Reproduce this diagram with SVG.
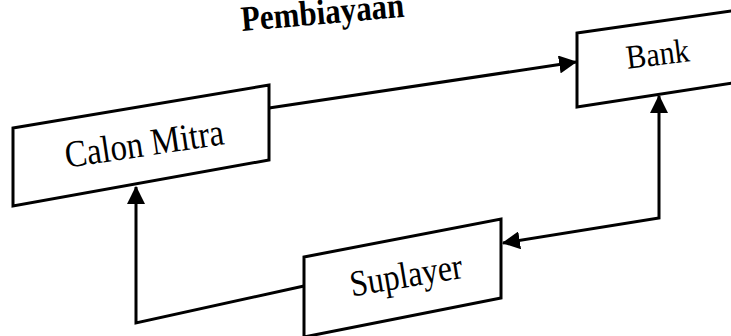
<svg xmlns="http://www.w3.org/2000/svg" width="731" height="336" viewBox="0 0 731 336">
<style>
.box{fill:#fff;stroke:#000;stroke-width:3;stroke-linejoin:miter}
.lbl{font-family:"Liberation Serif","Times New Roman",serif;fill:#000;text-anchor:middle}
.title{font-family:"Liberation Serif","Times New Roman",serif;fill:#000;font-weight:bold;text-anchor:start}
.con{fill:none;stroke:#000;stroke-width:3}
</style>
<defs>
<marker id="ah" markerUnits="userSpaceOnUse" markerWidth="18" markerHeight="18" viewBox="0 0 16 16" refX="15" refY="8" orient="auto-start-reverse">
<path d="M0,0 L16,8 L0,16 z" fill="#000"/>
</marker>
</defs>
<rect width="731" height="336" fill="#fff"/>
<text class="title" font-size="31" transform="translate(242 31) rotate(-5) scale(1 1.15)">Pembiayaan</text>
<g id="connectors">
<path class="con" d="M269,108 L576,62" marker-end="url(#ah)"/>
<path class="con" d="M503,243 L659,218 L659,96" marker-start="url(#ah)" marker-end="url(#ah)"/>
<path class="con" d="M304,286 L136,323 L136,187" marker-end="url(#ah)"/>
</g>
<g id="calon-mitra">
<polygon class="box" points="13,128 269,85 269,160 13,206"/>
<text class="lbl" font-size="33" transform="translate(146 156) rotate(-8.5) scale(1 1.15)">Calon Mitra</text>
</g>
<g id="bank">
<polygon class="box" points="577,33 745,9 745,81 577,107"/>
<text class="lbl" font-size="30" transform="translate(659 65) rotate(-7) scale(1 1.12)">Bank</text>
</g>
<g id="suplayer">
<polygon class="box" points="304,257 501,219 501,298 304,337"/>
<text class="lbl" font-size="32" transform="translate(408 287) rotate(-9.5) scale(1 1.15)">Suplayer</text>
</g>
</svg>
